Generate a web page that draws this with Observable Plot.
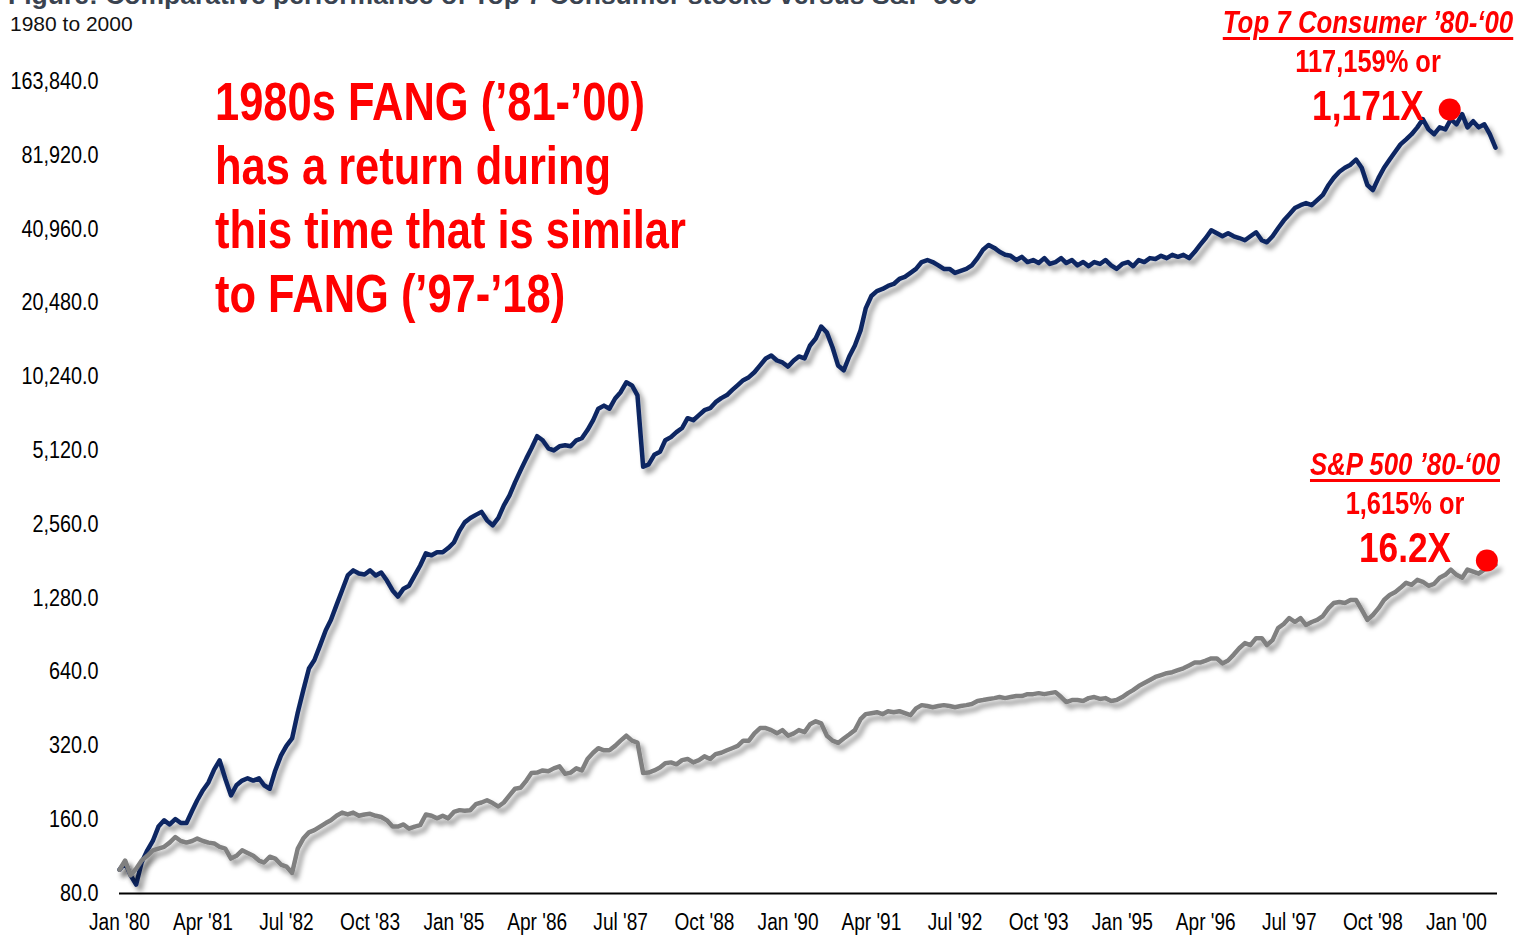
<!DOCTYPE html>
<html>
<head>
<meta charset="utf-8">
<script src="https://cdn.jsdelivr.net/npm/d3@7"></script>
<script src="https://cdn.jsdelivr.net/npm/@observablehq/plot@0.6"></script>
<style>
  html, body { margin: 0; padding: 0; background: #fff; }
  #wrap { position: relative; width: 1518px; height: 936px; overflow: hidden; background: #fff; }
  #chart { position: absolute; left: 0; top: 0; }
  .abs { position: absolute; white-space: nowrap; }
  .title { left: 8px; top: -18px; font: bold 26.5px "Liberation Sans", Arial, sans-serif; line-height: 26.5px; color: #3a4350; }
  .subtitle { left: 10px; top: 13px; font: 21px "Liberation Sans", Arial, sans-serif; line-height: 21px; color: #111; }
  .red { color: #ff0000; font-family: "Liberation Sans", Arial, sans-serif; font-weight: bold; }
  .big { left: 215px; top: 70px; font-size: 53px; line-height: 64px; transform: scaleX(0.82); transform-origin: 0 0; }
  .ctr { text-align: center; width: 400px; transform: scaleX(0.82); transform-origin: 50% 0; }
  .hdr { font-style: italic; text-decoration: underline; text-decoration-thickness: 2.5px; text-underline-offset: 4px; }
</style>
</head>
<body>
<div id="wrap">
  <div class="abs title">Figure: Comparative performance of Top 7 Consumer stocks versus S&amp;P 500</div>
  <div class="abs subtitle">1980 to 2000</div>
  <div id="chart"></div>
  <div class="abs red big">1980s FANG (’81-’00)<br>has a return during<br>this time that is similar<br>to FANG (’97-’18)</div>
  <div class="abs red ctr hdr" style="left:1168px; top:7px; font-size:31.5px; line-height:31px;">Top 7 Consumer ’80-‘00</div>
  <div class="abs red ctr" style="left:1168px; top:46px; font-size:31px; line-height:31px;">117,159% or</div>
  <div class="abs red ctr" style="left:1168px; top:84px; font-size:43px; line-height:43px;">1,171X</div>
  <div class="abs red ctr hdr" style="left:1205px; top:449px; font-size:31.5px; line-height:31px;">S&amp;P 500 ’80-‘00</div>
  <div class="abs red ctr" style="left:1205px; top:488px; font-size:31px; line-height:31px;">1,615% or</div>
  <div class="abs red ctr" style="left:1205px; top:526px; font-size:43px; line-height:43px;">16.2X</div>
</div>
<script>
// ---- Data (monthly index levels, Jan 1980 = 100) ----
const seriesStart = "1980-01-01";
const seriesEnd = "2000-09-01"; // exclusive: last month is Aug 2000

const top7Values = [
  100,107,95,87,107,120,131,150,159,153,161,155,
  155,174,192,211,227,256,279,235,201,221,231,236,
  231,236,221,214,254,292,320,343,438,539,662,717,
  822,948,1044,1203,1377,1585,1663,1614,1600,1663,1585,1630,
  1511,1377,1300,1400,1440,1585,1740,1952,1915,1970,1970,2050,
  2160,2416,2610,2720,2800,2880,2660,2540,2720,3060,3360,3800,
  4260,4760,5230,5860,5640,5230,5130,5330,5380,5330,5640,5750,
  6210,6820,7590,7810,7590,8350,8860,9720,9440,8600,4400,4500,
  4920,5060,5640,5810,6090,6330,6940,6810,7140,7480,7620,8070,
  8380,8620,9030,9470,9920,10200,10680,11390,12160,12500,11930,11710,
  11270,11930,12390,12160,13740,14670,16420,15500,13480,11390,10880,12390,
  13740,15830,19460,21860,22900,23360,24030,24480,25660,26150,27150,28200,
  30070,30650,30070,29160,28200,28200,27150,27670,28200,29160,31200,33730,
  35320,34340,33100,32180,31880,30650,31580,30070,30650,29800,31200,29530,
  30070,31200,29800,30650,29160,30070,28930,30070,29530,30650,29160,28200,
  29530,30070,28930,30650,30070,31200,30930,31880,31200,32180,31580,32180,
  31200,33100,35320,37680,40500,39400,38300,39400,38300,37680,36900,38300,
  39770,36900,36200,38300,41300,44400,47000,49900,51300,52300,51300,53800,
  56500,62000,66300,70200,72900,75000,78700,72900,62000,59100,66300,72900,
  78700,84900,90800,95200,99900,106500,115000,104500,99900,106500,104500,115000,
  109600,120600,106500,112900,106500,109600,99900,88000
];

const sp500Values = [
  100,109,95,101,109,114,120,122,124,129,136,131,
  129,131,134,131,129,128,124,122,111,114,120,117,
  114,109,107,113,111,105,103,97,122,134,142,145,
  150,155,159,166,171,168,171,166,168,169,166,164,
  159,150,150,153,147,150,152,168,166,162,166,162,
  172,175,174,175,185,188,192,187,181,188,201,214,
  216,231,248,249,254,252,259,264,246,249,259,254,
  283,300,313,307,307,320,336,352,336,330,248,249,
  254,261,272,274,269,280,283,274,280,290,283,296,
  300,307,313,320,336,336,360,378,378,371,360,371,
  352,360,371,364,392,403,395,352,336,329,343,356,
  371,411,431,435,439,431,443,439,443,435,427,455,
  469,465,460,465,469,465,460,465,469,474,488,492,
  497,501,506,501,506,511,511,520,520,525,520,525,
  530,506,483,492,492,488,501,506,497,501,488,492,
  506,525,540,561,577,594,611,622,633,639,651,663,
  681,700,700,713,727,727,694,713,754,800,840,824,
  880,880,824,864,967,1005,1063,1024,1063,995,1024,1044,
  1083,1166,1223,1235,1223,1259,1259,1150,1044,1093,1166,1259,
  1320,1358,1411,1480,1452,1521,1494,1439,1466,1550,1594,1675,
  1594,1550,1675,1643,1612,1675,1706,1753
];

const markerDates = ["1999-11-25", "2000-06-15"];
const markerValues = [126000, 1824];

const xTickDates = ["1980-01-01","1981-04-01","1982-07-01","1983-10-01","1985-01-01","1986-04-01",
  "1987-07-01","1988-10-01","1990-01-01","1991-04-01","1992-07-01","1993-10-01","1995-01-01",
  "1996-04-01","1997-07-01","1998-10-01","2000-01-01"];
const yTickValues = [80,160,320,640,1280,2560,5120,10240,20480,40960,81920,163840];

// ---- Build tables ----
const months = d3.utcMonth.range(new Date(seriesStart), new Date(seriesEnd));
const top7 = months.map((d, i) => ({date: d, value: top7Values[i]}));
const sp500 = months.map((d, i) => ({date: d, value: sp500Values[i]}));
const markers = markerDates.map((d, i) => ({date: new Date(d), value: markerValues[i]}));

const navy = "#0b2562";
const gray = "#808080";
const fmtMonth = d3.utcFormat("%b");
const fmtYear = d3.utcFormat("%y");

const chart = Plot.plot({
  width: 1518,
  height: 936,
  marginLeft: 119,
  marginRight: 21,
  marginTop: 81,
  marginBottom: 43,
  style: {
    fontFamily: "'Liberation Sans', Arial, sans-serif",
    fontSize: "23px",
    color: "#000",
    background: "transparent",
    overflow: "visible"
  },
  x: {
    type: "utc",
    domain: [new Date("1980-01-01"), new Date("2000-08-12")],
    ticks: xTickDates.map(d => new Date(d)),
    tickFormat: d => `${fmtMonth(d)} '${fmtYear(d)}`,
    tickSize: 0,
    tickPadding: 20,
    label: null
  },
  y: {
    type: "log",
    base: 2,
    domain: [80, 163840],
    ticks: yTickValues,
    tickFormat: d3.format(",.1f"),
    tickSize: 0,
    tickPadding: 21,
    label: null
  },
  marks: [
    Plot.ruleY([80], {stroke: "#000", strokeWidth: 2}),
    Plot.lineY(top7, {x: "date", y: "value", stroke: navy, strokeWidth: 4.5, strokeLinejoin: "round"}),
    Plot.lineY(sp500, {x: "date", y: "value", stroke: gray, strokeWidth: 4.5, strokeLinejoin: "round"}),
    Plot.dot(markers, {x: "date", y: "value", r: 11, fill: "#ff0000", stroke: "none"})
  ]
});

const svg = d3.select(chart);

// drop shadow on the lines
const defs = svg.insert("defs", ":first-child");
defs.append("filter")
  .attr("id", "lineShadow")
  .attr("x", "-5%").attr("y", "-5%").attr("width", "112%").attr("height", "115%")
  .append("feDropShadow")
  .attr("dx", 4).attr("dy", 5).attr("stdDeviation", 2.5)
  .attr("flood-color", "#000").attr("flood-opacity", 0.4);
svg.selectAll('g[aria-label="line"]').attr("filter", "url(#lineShadow)");

document.getElementById("chart").appendChild(chart);

// condense axis tick labels (narrow typeface look) once laid out
svg.selectAll('g[aria-label="x-axis tick label"] text').each(function() {
  const len = this.getComputedTextLength();
  if (len > 0) {
    this.setAttribute("textLength", (len * 0.83).toFixed(2));
    this.setAttribute("lengthAdjust", "spacingAndGlyphs");
  }
});
svg.selectAll('g[aria-label="y-axis tick label"] text').each(function() {
  const len = this.getComputedTextLength();
  if (len > 0) {
    this.setAttribute("textLength", (len * 0.86).toFixed(2));
    this.setAttribute("lengthAdjust", "spacingAndGlyphs");
  }
});
</script>
</body>
</html>
